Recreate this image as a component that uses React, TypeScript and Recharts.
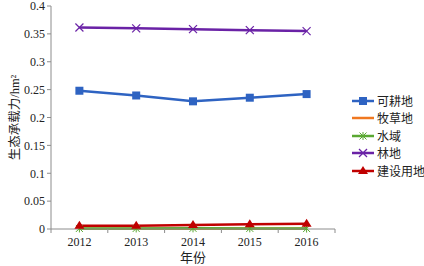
import React from "react";
import { LineChart, Line, XAxis, YAxis, Label } from "recharts";

const years = [2012, 2013, 2014, 2015, 2016];
const arable = [0.248, 0.2395, 0.229, 0.2355, 0.242];
const grassland = [0.0004, 0.0004, 0.0004, 0.0004, 0.0004];
const water = [0.001, 0.001, 0.0012, 0.0011, 0.0008];
const forest = [0.3615, 0.36, 0.3585, 0.3567, 0.355];
const construction = [0.006, 0.006, 0.0073, 0.0085, 0.0093];
const yTicks = [0, 0.05, 0.1, 0.15, 0.2, 0.25, 0.3, 0.35, 0.4];
const xTicks = [2011.5, 2012, 2012.5, 2013, 2013.5, 2014, 2014.5, 2015, 2015.5, 2016, 2016.5];

const data = years.map((y, i) => ({
  year: y,
  arable: arable[i],
  grassland: grassland[i],
  water: water[i],
  forest: forest[i],
  construction: construction[i],
}));

const FONT = "'Liberation Serif', 'DejaVu Serif', 'Noto Sans CJK SC', serif";
const AXIS = "#8c8c8c";

const C = {
  arable: "#2e63c2",
  grassland: "#f07820",
  water: "#5aa832",
  forest: "#6a22a6",
  construction: "#c00000",
};

const SquareDot = (p: any) => (
  <rect x={p.cx - 4} y={p.cy - 4} width={8} height={8} fill={C.arable} />
);
const CrossDot = (p: any) => (
  <g stroke={C.forest} strokeWidth={1.2}>
    <line x1={p.cx - 4} y1={p.cy - 4} x2={p.cx + 4} y2={p.cy + 4} />
    <line x1={p.cx - 4} y1={p.cy + 4} x2={p.cx + 4} y2={p.cy - 4} />
  </g>
);
const StarDot = (p: any) => (
  <g stroke={C.water} strokeWidth={1}>
    <line x1={p.cx - 3.5} y1={p.cy - 3.5} x2={p.cx + 3.5} y2={p.cy + 3.5} />
    <line x1={p.cx - 3.5} y1={p.cy + 3.5} x2={p.cx + 3.5} y2={p.cy - 3.5} />
    <line x1={p.cx} y1={p.cy - 4} x2={p.cx} y2={p.cy + 4} />
  </g>
);
const TriDot = (p: any) => (
  <polygon
    points={`${p.cx},${p.cy - 5} ${p.cx - 5},${p.cy + 3} ${p.cx + 5},${p.cy + 3}`}
    fill={C.construction}
  />
);

const XTick = (p: any) => {
  const v = p.payload.value;
  if (Number.isInteger(v)) {
    return (
      <text x={p.x} y={p.y + 17} textAnchor="middle" fontSize={12} fontFamily={FONT} fill="#222">
        {v}
      </text>
    );
  }
  return <line x1={p.x} y1={p.y} x2={p.x} y2={p.y + 4} stroke={AXIS} />;
};

const legendItems = [
  { name: "可耕地", color: C.arable, marker: "square" },
  { name: "牧草地", color: C.grassland, marker: "none" },
  { name: "水域", color: C.water, marker: "star" },
  { name: "林地", color: C.forest, marker: "cross" },
  { name: "建设用地", color: C.construction, marker: "tri" },
];

const LegendIcon = ({ color, marker }: { color: string; marker: string }) => (
  <svg width={24} height={12} style={{ display: "block", flex: "none" }}>
    <line x1={1} y1={6} x2={23} y2={6} stroke={color} strokeWidth={2.5} />
    {marker === "square" && <rect x={8} y={2} width={8} height={8} fill={color} />}
    {marker === "cross" && (
      <g stroke={color} strokeWidth={1.2}>
        <line x1={8} y1={2} x2={16} y2={10} />
        <line x1={8} y1={10} x2={16} y2={2} />
      </g>
    )}
    {marker === "star" && (
      <g stroke={color} strokeWidth={1}>
        <line x1={8.5} y1={2.5} x2={15.5} y2={9.5} />
        <line x1={8.5} y1={9.5} x2={15.5} y2={2.5} />
        <line x1={12} y1={2} x2={12} y2={10} />
      </g>
    )}
    {marker === "tri" && <polygon points="12,1 7,9 17,9" fill={color} />}
  </svg>
);

export default function App() {
  return (
    <div style={{ position: "absolute", left: 0, top: 0, width: 424, height: 266, background: "#fff" }}>
      <LineChart
        width={424}
        height={266}
        data={data}
        margin={{ top: 6, right: 89, bottom: 0, left: 0 }}
      >
        <XAxis
          dataKey="year"
          type="number"
          domain={[2011.5, 2016.5]}
          ticks={xTicks}
          interval={0}
          tick={<XTick />}
          tickLine={false}
          tickSize={0}
          tickMargin={0}
          axisLine={{ stroke: AXIS }}
          height={37}
        >
          <Label
            content={(props: any) => {
              const vb = props.viewBox;
              return (
                <text
                  x={vb.x + vb.width / 2}
                  y={vb.y + 33}
                  textAnchor="middle"
                  fontSize={13}
                  fontFamily={FONT}
                  fill="#222"
                >
                  年份
                </text>
              );
            }}
          />
        </XAxis>
        <YAxis
          domain={[0, 0.4]}
          ticks={yTicks}
          interval={0}
          width={51}
          tickFormatter={(v: number) => String(v)}
          tick={{ fontSize: 12, fontFamily: FONT, fill: "#222" }}
          tickLine={{ stroke: AXIS }}
          tickSize={4}
          axisLine={{ stroke: AXIS }}
        >
          <Label
            content={(props: any) => {
              const vb = props.viewBox;
              const cy = vb.y + vb.height / 2;
              return (
                <text
                  x={15}
                  y={cy}
                  transform={`rotate(-90 15 ${cy})`}
                  textAnchor="middle"
                  dominantBaseline="central"
                  fontSize={12.5}
                  fontFamily={FONT}
                  fill="#222"
                >
                  生态承载力/hm²
                </text>
              );
            }}
          />
        </YAxis>
        <Line dataKey="grassland" stroke={C.grassland} strokeWidth={2.5} dot={false} isAnimationActive={false} />
        <Line dataKey="water" stroke={C.water} strokeWidth={2.5} dot={<StarDot />} isAnimationActive={false} />
        <Line dataKey="construction" stroke={C.construction} strokeWidth={2.5} dot={<TriDot />} isAnimationActive={false} />
        <Line dataKey="arable" stroke={C.arable} strokeWidth={2.5} dot={<SquareDot />} isAnimationActive={false} />
        <Line dataKey="forest" stroke={C.forest} strokeWidth={2.5} dot={<CrossDot />} isAnimationActive={false} />
      </LineChart>
      <div style={{ position: "absolute", left: 351, top: 92 }}>
        {legendItems.map((it) => (
          <div
            key={it.name}
            style={{
              display: "flex",
              alignItems: "center",
              height: 17.5,
              whiteSpace: "nowrap",
              fontFamily: FONT,
              fontSize: 12,
              color: "#222",
            }}
          >
            <LegendIcon color={it.color} marker={it.marker} />
            <span style={{ marginLeft: 2 }}>{it.name}</span>
          </div>
        ))}
      </div>
    </div>
  );
}
